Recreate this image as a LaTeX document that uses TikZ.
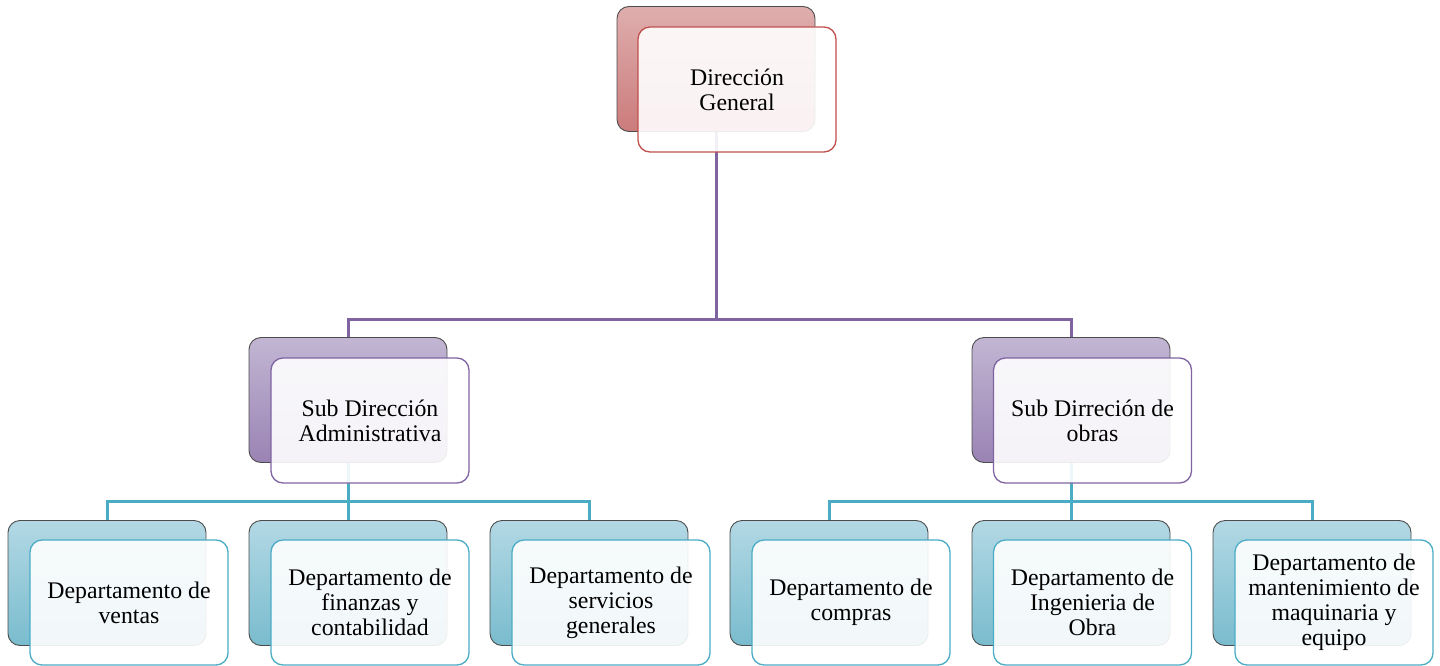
\documentclass[tikz,border=0pt]{standalone}
\usepackage{fontspec}
\setmainfont{Liberation Serif}
\begin{document}
\begin{tikzpicture}[x=1pt,y=-1pt,
  box/.style={rectangle, rounded corners=12pt, minimum width=198pt, minimum height=125pt, inner sep=0pt},
  lbl/.style={font=\fontsize{23.8}{25}\selectfont, align=center, text=black},
  frontred/.style={box, draw=redL, line width=1.3pt, fill=white, fill opacity=0.9, text opacity=1},
  backpur/.style={box, draw=black!70, line width=0.9pt, top color=purT, bottom color=purB},
  frontpur/.style={box, draw=purL, line width=1.3pt, fill=white, fill opacity=0.9, text opacity=1},
  backteal/.style={box, draw=black!70, line width=0.9pt, top color=tealT, bottom color=tealB},
  frontteal/.style={box, draw=tealL, line width=1.3pt, fill=white, fill opacity=0.9, text opacity=1},
  conpur/.style={draw=purL, line width=3pt},
  conteal/.style={draw=tealL, line width=3pt}
]
\definecolor{redT}{HTML}{DFAEAE}
\definecolor{redB}{HTML}{CC7B7B}
\definecolor{redL}{HTML}{C0504D}
\definecolor{purT}{HTML}{C2B6D3}
\definecolor{purB}{HTML}{9A83B4}
\definecolor{purL}{HTML}{8064A2}
\definecolor{tealT}{HTML}{B3D8E4}
\definecolor{tealB}{HTML}{79BCCE}
\definecolor{tealL}{HTML}{4BACC6}
\tikzset{backred/.style={box, draw=black!70, line width=0.9pt, top color=redT, bottom color=redB}}
\useasboundingbox (0,0) rectangle (1440,666);
% back boxes
\node[backred] (dg) at (716,69) {};
\node[backpur] (sa) at (348,400) {};
\node[backpur] (so) at (1071,400) {};
\node[backteal] (d1) at (107,583) {};
\node[backteal] (d2) at (348,583) {};
\node[backteal] (d3) at (589,583) {};
\node[backteal] (d4) at (829,583) {};
\node[backteal] (d5) at (1071,583) {};
\node[backteal] (d6) at (1312,583) {};
% connectors
\coordinate (j0) at (716,319);
\coordinate (j1) at (348,501);
\coordinate (j2) at (1071,501);
\draw[conpur] (dg.south) -- (j0);
\draw[conpur] (sa.north) |- (j0) -| (so.north);
\draw[conteal] (sa.south) -- (j1);
\draw[conteal] (d1.north) |- (j1) -| (d3.north);
\draw[conteal] (j1) -- (d2.north);
\draw[conteal] (so.south) -- (j2);
\draw[conteal] (d4.north) |- (j2) -| (d6.north);
\draw[conteal] (j2) -- (d5.north);
% front boxes
\node[frontred] (dgF) at (737,89.5) {};
\node[lbl] at (dgF) {Dirección\\General};
\node[frontpur] (saF) at (370,420.5) {};
\node[lbl] at (saF) {Sub Dirección\\Administrativa};
\node[frontpur] (soF) at (1092.5,420.5) {};
\node[lbl] at (soF) {Sub Dirreción de\\obras};
\node[frontteal] (d1F) at (129,602.5) {};
\node[lbl] at (d1F) {Departamento de\\ventas};
\node[frontteal] (d2F) at (370,602.5) {};
\node[lbl] at (d2F) {Departamento de\\finanzas y\\contabilidad};
\node[frontteal] (d3F) at (611,602.5) {};
\node[lbl] at (d3F) {Departamento de\\servicios\\generales};
\node[frontteal] (d4F) at (851,602.5) {};
\node[lbl] at (d4F) {Departamento de\\compras};
\node[frontteal] (d5F) at (1092.5,602.5) {};
\node[lbl] at (d5F) {Departamento de\\Ingenieria de\\Obra};
\node[frontteal] (d6F) at (1334,602.5) {};
\node[lbl] at (d6F) {Departamento de\\mantenimiento de\\maquinaria y\\equipo};
\end{tikzpicture}
\end{document}
